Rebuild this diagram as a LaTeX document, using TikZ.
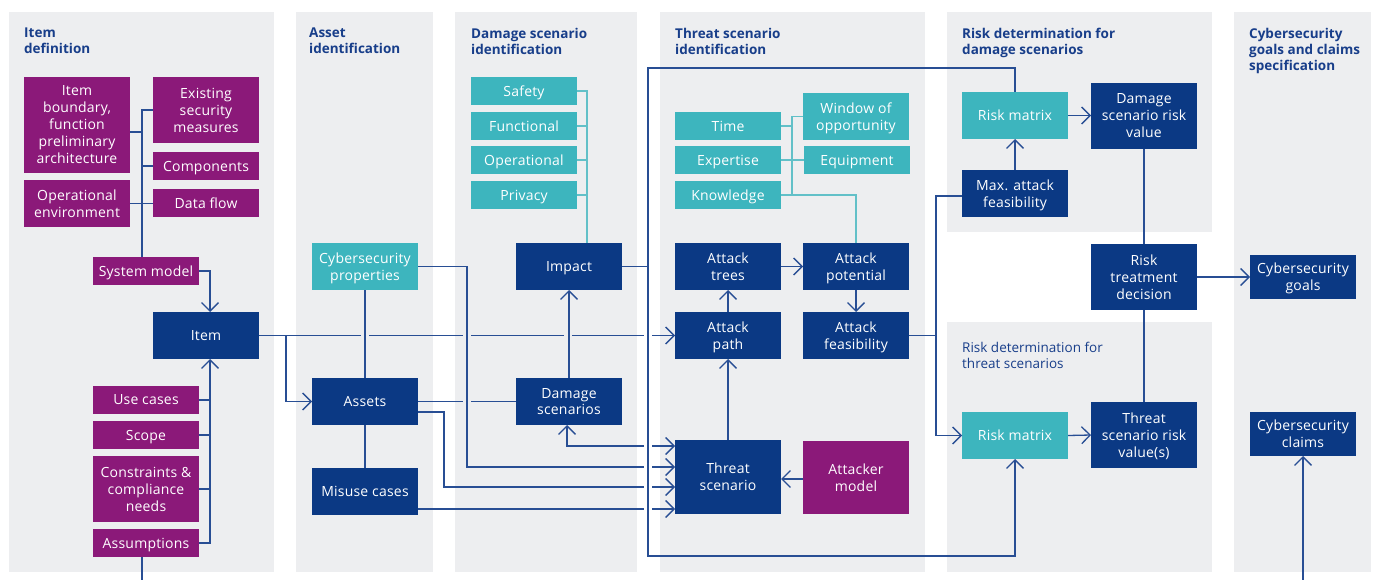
\documentclass[tikz,border=0pt]{standalone}
\usepackage{fontspec}
\setmainfont{Open Sans}
\newfontfamily\boxfam[LetterSpace=1.5]{Open Sans}
\usetikzlibrary{arrows.meta}
\definecolor{navy}{RGB}{11,57,132}
\definecolor{purp}{RGB}{139,25,121}
\definecolor{tealc}{RGB}{61,181,190}
\definecolor{lineblue}{RGB}{40,78,148}
\definecolor{lteal}{RGB}{98,192,200}
\definecolor{panel}{RGB}{237,238,240}
\definecolor{titleblue}{RGB}{24,62,138}
\newcommand\boxfont{\boxfam\fontsize{14}{17}\selectfont}
\newcommand\ttlfont{\fontsize{13.5}{16}\selectfont\bfseries}
\newcommand\ttlfontm{\fontsize{13.5}{16}\selectfont}
\newcommand\bx[7]{\node[#1, minimum width={#5-#3}, minimum height={#6-#4}] (#2) at ({(#3+#5)/2},{(#4+#6)/2}) {#7};}
\tikzset{
  box/.style={draw=none, text=white, align=center, inner sep=0pt, outer sep=0pt, text depth=0pt, font=\boxfont},
  nv/.style={box, fill=navy},
  pu/.style={box, fill=purp},
  te/.style={box, fill=tealc},
  conn/.style={draw=lineblue, line width=1.3pt},
  tconn/.style={draw=lteal, line width=1.3pt},
  arr/.style={conn, -{Straight Barb[length=8.5pt,width=17pt]}},
  ttl/.style={anchor=north west, inner sep=0pt, align=left, text=titleblue, font=\ttlfont},
  ttlm/.style={anchor=north west, inner sep=0pt, align=left, text=titleblue, font=\ttlfontm}
}
\begin{document}
\begin{tikzpicture}[x=1pt,y=-1pt]
\useasboundingbox (0,0) rectangle (1378,580);
\fill[white] (0,0) rectangle (1378,580);
% panels
\fill[panel] (9,12) rectangle (274,572);
\fill[panel] (296,12) rectangle (433,572);
\fill[panel] (455,12) rectangle (637,572);
\fill[panel] (660,12) rectangle (925,572);
\fill[panel] (947,12) rectangle (1212,232);
\fill[panel] (947,322) rectangle (1212,572);
\fill[panel] (1234,12) rectangle (1371,572);
% titles
\node[ttl] (t1) at (24,28) {Item\\definition};
\node[ttl] (t2) at (309,28) {Asset\\identification};
\node[ttl] (t3) at (471,28) {Damage scenario\\identification};
\node[ttl] (t4) at (675,28) {Threat scenario\\identification};
\node[ttl] (t5) at (962,28) {Risk determination for\\damage scenarios};
\node[ttl] (t6) at (1249,28) {Cybersecurity\\goals and claims\\specification};
\node[ttlm] (t7) at (962,342) {Risk determination for\\threat scenarios};
% panel 1
\bx{pu}{ib}{24}{77}{130}{173}{Item\\boundary,\\function\\preliminary\\architecture}
\bx{pu}{esm}{153}{77}{259}{143}{Existing\\security\\measures}
\bx{pu}{comp}{153}{152}{259}{180}{Components}
\bx{pu}{openv}{24}{180}{130}{227}{Operational\\environment}
\bx{pu}{dflow}{153}{189}{259}{217}{Data flow}
\bx{pu}{sysm}{93}{257}{199}{285}{System model}
\bx{nv}{item}{153}{312}{259}{359}{Item}
\bx{pu}{usec}{93}{386}{199}{414}{Use cases}
\bx{pu}{scope}{93}{421}{199}{449}{Scope}
\bx{pu}{constr}{93}{456}{199}{522}{Constraints \&\\compliance\\needs}
\bx{pu}{assum}{93}{529}{199}{557}{Assumptions}
% panel 2
\bx{te}{cprops}{312}{243}{418}{290}{Cybersecurity\\properties}
\bx{nv}{assets}{312}{378}{418}{425}{Assets}
\bx{nv}{misuse}{312}{468}{418}{515}{Misuse cases}
% panel 3
\bx{te}{safety}{471}{77}{577}{105}{Safety}
\bx{te}{functional}{471}{112}{577}{140}{Functional}
\bx{te}{operational}{471}{146}{577}{174}{Operational}
\bx{te}{privacy}{471}{181}{577}{209}{Privacy}
\bx{nv}{impact}{516}{243}{622}{290}{Impact}
\bx{nv}{dscen}{516}{378}{622}{425}{Damage\\scenarios}
% panel 4
\bx{te}{time}{675}{112}{781}{140}{Time}
\bx{te}{expertise}{675}{146}{781}{174}{Expertise}
\bx{te}{knowledge}{675}{181}{781}{209}{Knowledge}
\bx{te}{window}{803}{93}{909}{140}{Window of\\opportunity}
\bx{te}{equip}{804}{146}{910}{174}{Equipment}
\bx{nv}{atrees}{675}{243}{781}{290}{Attack\\trees}
\bx{nv}{apot}{803}{243}{909}{290}{Attack\\potential}
\bx{nv}{apath}{675}{312}{781}{359}{Attack\\path}
\bx{nv}{afeas}{803}{312}{909}{359}{Attack\\feasibility}
\bx{nv}{tscen}{675}{440}{781}{514}{Threat\\scenario}
\bx{pu}{attacker}{803}{441}{909}{514}{Attacker\\model}
% panel 5
\bx{te}{rm1}{962}{92}{1068}{139}{Risk matrix}
\bx{nv}{dsrv}{1091}{83}{1197}{149}{Damage\\scenario risk\\value}
\bx{nv}{maxaf}{962}{170}{1068}{217}{Max. attack\\feasibility}
\bx{nv}{rtd}{1091}{244}{1197}{310}{Risk\\treatment\\decision}
\bx{te}{rm2}{962}{412}{1068}{459}{Risk matrix}
\bx{nv}{tsrv}{1091}{402}{1197}{468}{Threat\\scenario risk\\value(s)}
% panel 6
\bx{nv}{cgoals}{1250}{255}{1356}{299}{Cybersecurity\\goals}
\bx{nv}{cclaims}{1250}{412}{1356}{456}{Cybersecurity\\claims}
% ---- connectors panel 1
\draw[conn] (esm.west) -| ([xshift=-4pt]sysm.north);
\draw[conn] ([yshift=-7pt]ib.east) -- ++(12,0);
\draw[conn] (comp.west) -- ++(-11,0);
\draw[conn] (openv.east) -- (openv.east -| dflow.west);
\draw[arr] (sysm.east) -| ([xshift=4pt]item.north);
\draw[arr] (assum.east) -| ([xshift=4pt]item.south);
\draw[conn] (usec.east) -- ++(11,0);
\draw[conn] (scope.east) -- ++(11,0);
\draw[conn] (constr.east) -- ++(11,0);
\coordinate (bot1) at (142,580);
\draw[conn] ([xshift=-4pt]assum.south) -- (bot1);
% item line with hops
\draw[conn] (item.east) -- (361,335.5) (369,335.5) -- (463,335.5) (471,335.5) -- (564,335.5) (572,335.5) -- (644,335.5);
\draw[arr] (652,335.5) -- (apath.west);
\draw[arr] (286,335.5) |- (assets.west);
% panel 2
\draw[conn] (cprops.south) -- (assets.north);
\draw[conn] (assets.south) -- (misuse.north);
\draw[conn] (cprops.east) -| (467,467) -- (644,467);
\draw[arr] (652,467) -- ([yshift=10pt]tscen.west);
\draw[conn] (assets.east) -- (463,401.5) (471,401.5) -- (dscen.west);
\draw[conn] ([yshift=-10.5pt]assets.east) -| (444,487) -- (644,487);
\draw[arr] (652,487) -- ([yshift=-10pt]tscen.west);
\draw[conn] ([yshift=-17.5pt]misuse.east) -- (644,509);
\draw[arr] (652,509) -- ([yshift=-32pt]tscen.west);
% panel 3
\draw[arr] (644,446) -| ([xshift=-2pt]dscen.south);
\draw[arr] (652,446) -- ([yshift=31pt]tscen.west);
\draw[arr] (dscen.north) -- (impact.south);
\draw[tconn] (safety.east) -| ([xshift=18pt]impact.north);
\draw[tconn] (functional.east) -- ++(10,0);
\draw[tconn] (operational.east) -- ++(10,0);
\draw[tconn] (privacy.east) -- ++(10,0);
\draw[conn] (impact.east) -- (648,266.5);
\draw[arr] (rm1.north) |- (648,68) -- (648,556) -| (rm2.south);
% panel 4
\draw[tconn] (time.east) -- ++(11,0);
\draw[tconn] (window.west) -| (792,195);
\draw[tconn] (expertise.east) -- (expertise.east -| equip.west);
\draw[tconn] (knowledge.east) -| (apot.north);
\draw[arr] (atrees.east) -- (apot.west);
\draw[arr] (apot.south) -- (afeas.north);
\draw[arr] (apath.north) -- (atrees.south);
\draw[arr] (tscen.north) -- (apath.south);
\draw[arr] ([yshift=-1.5pt]attacker.west) -- ([yshift=-2pt]tscen.east);
\draw[conn] (afeas.east) -- (936,335.5);
\draw[arr] ([yshift=-2.5pt]maxaf.west) -- ++(-26,0) |- (rm2.west);
% panel 5
\draw[arr] (maxaf.north) -- (rm1.south);
\draw[arr] (rm1.east) -- (rm1.east -| dsrv.west);
\draw[conn] (dsrv.south) -- (rtd.north);
\draw[conn] (rtd.south) -- (tsrv.north);
\draw[arr] (rtd.east) -- (cgoals.west);
\draw[arr] (rm2.east) -- (tsrv.west);
\coordinate (bot2) at (1303,580);
\draw[arr] (bot2) -- (cclaims.south);
\end{tikzpicture}
\end{document}
